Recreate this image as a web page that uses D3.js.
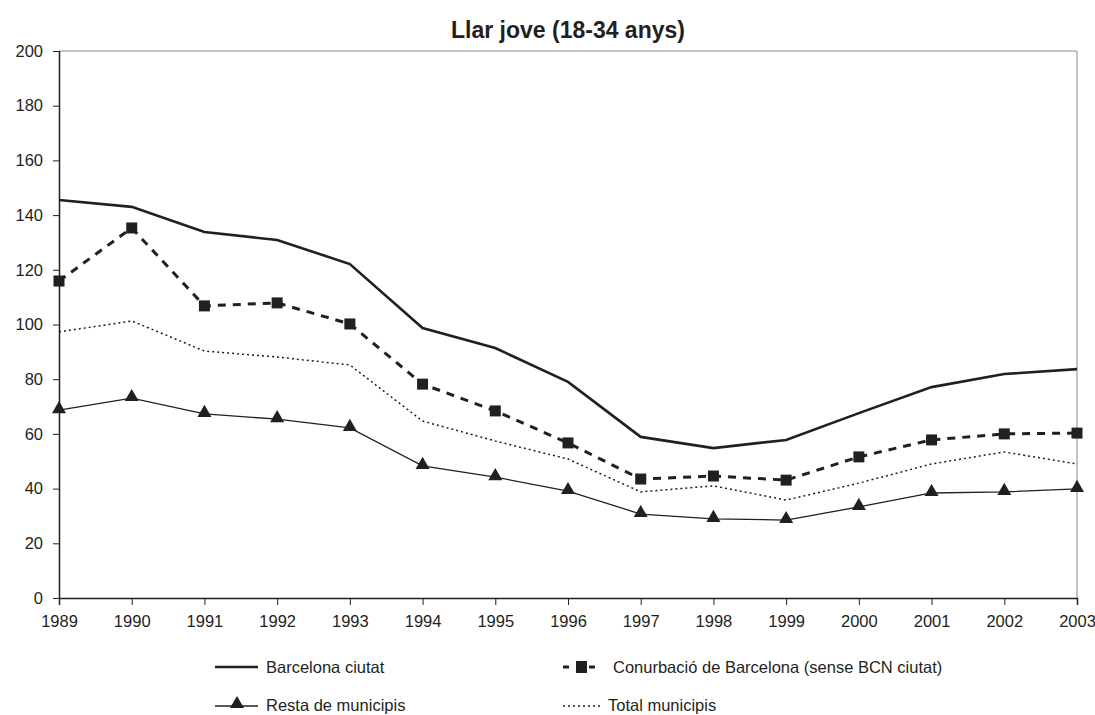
<!DOCTYPE html>
<html><head><meta charset="utf-8">
<script src="https://cdn.jsdelivr.net/npm/d3@7"></script>
<style>body{margin:0;background:#fff}svg{display:block}text{font-family:"Liberation Sans",Arial,sans-serif;fill:#231f20}</style>
</head><body><svg id="c" width="1095" height="715"></svg>
<script>
const years = [1989,1990,1991,1992,1993,1994,1995,1996,1997,1998,1999,2000,2001,2002,2003];
const barcelona = [145.5,143,133.8,130.9,122.1,98.7,91.4,79,58.9,54.8,57.8,67.6,77.1,81.9,83.7];
const conurbacio = [115.9,135.3,106.8,107.9,100.2,78.2,68.4,56.7,43.5,44.6,43.1,51.6,57.8,60,60.3];
const resta = [68.7,73.1,67.3,65.4,62.2,48.3,44.2,39.1,30.7,28.9,28.5,33.3,38.4,38.8,39.9];
const total = [97.3,101.3,90.3,88.1,85.2,64.7,57.4,50.8,38.8,41,35.8,42,49,53.4,49];
const yTicks = [0,20,40,60,80,100,120,140,160,180,200];
const title = "Llar jove (18-34 anys)";
const names = ["Barcelona ciutat","Conurbació de Barcelona (sense BCN ciutat)","Resta de municipis","Total municipis"];

const ink = "#231f20";
const svg = d3.select("#c");
const L=59,R=1077,T=51,B=598;
const x = d3.scalePoint().domain(years).range([L,R]);
const y = d3.scaleLinear().domain([0,200]).range([B,T]);

svg.append("text").attr("x",568).attr("y",38).attr("text-anchor","middle")
  .attr("font-size",23).attr("font-weight","bold").text(title);

// frame top/right
svg.append("path").attr("d",`M${L},${T}H${R}V${B}`).attr("fill","none").attr("stroke","#8a8a8a").attr("stroke-width",1);

const ya = svg.append("g").attr("transform",`translate(${L},0)`)
  .call(d3.axisLeft(y).tickValues(yTicks).tickSize(6).tickPadding(10));
const xa = svg.append("g").attr("transform",`translate(0,${B})`)
  .call(d3.axisBottom(x).tickValues(years).tickSize(7).tickPadding(10).tickFormat(d3.format("d")));
[ya,xa].forEach(g=>{
  g.select(".domain").attr("stroke",ink).attr("stroke-width",1.5);
  g.selectAll(".tick line").attr("stroke",ink);
  g.selectAll(".tick text").attr("font-size",16.5).attr("fill",ink).style("font-family",'"Liberation Sans",Arial,sans-serif');
});
ya.select(".domain").attr("d",`M0.5,${T}V${B}`);

const line = d3.line().x((d,i)=>x(years[i])).y(d=>y(d));
svg.append("path").datum(total).attr("d",line).attr("fill","none").attr("stroke",ink).attr("stroke-width",1.5).attr("stroke-dasharray","2,3");
svg.append("path").datum(resta).attr("d",line).attr("fill","none").attr("stroke",ink).attr("stroke-width",1.3);
svg.append("path").datum(conurbacio).attr("d",line).attr("fill","none").attr("stroke",ink).attr("stroke-width",3).attr("stroke-dasharray","8,7");
svg.append("path").datum(barcelona).attr("d",line).attr("fill","none").attr("stroke",ink).attr("stroke-width",2.6);

const tri = d3.symbol().type(d3.symbolTriangle).size(85);
svg.append("g").selectAll("path").data(resta).join("path")
  .attr("d",tri).attr("transform",(d,i)=>`translate(${x(years[i])},${y(d)-1})`).attr("fill",ink);
svg.append("g").selectAll("rect").data(conurbacio).join("rect")
  .attr("x",(d,i)=>x(years[i])-5.5).attr("y",d=>y(d)-5.5).attr("width",11).attr("height",11).attr("fill",ink);

// legend
const lg = svg.append("g");
lg.append("line").attr("x1",215).attr("x2",258).attr("y1",667).attr("y2",667).attr("stroke",ink).attr("stroke-width",2.6);
lg.append("text").attr("x",266).attr("y",673).attr("font-size",16.5).text(names[0]);
lg.append("line").attr("x1",563).attr("x2",601).attr("y1",667).attr("y2",667).attr("stroke",ink).attr("stroke-width",3).attr("stroke-dasharray","6,7");
lg.append("rect").attr("x",576).attr("y",661).attr("width",11).attr("height",12).attr("fill",ink);
lg.append("text").attr("x",613).attr("y",673).attr("font-size",16.5).text(names[1]);
lg.append("line").attr("x1",215).attr("x2",258).attr("y1",706).attr("y2",706).attr("stroke",ink).attr("stroke-width",1.3);
lg.append("path").attr("d",tri).attr("transform","translate(237,704)").attr("fill",ink);
lg.append("text").attr("x",266).attr("y",711).attr("font-size",16.5).text(names[2]);
lg.append("line").attr("x1",563).attr("x2",601).attr("y1",706).attr("y2",706).attr("stroke",ink).attr("stroke-width",1.5).attr("stroke-dasharray","2,3");
lg.append("text").attr("x",608).attr("y",711).attr("font-size",16.5).text(names[3]);
</script></body></html>
